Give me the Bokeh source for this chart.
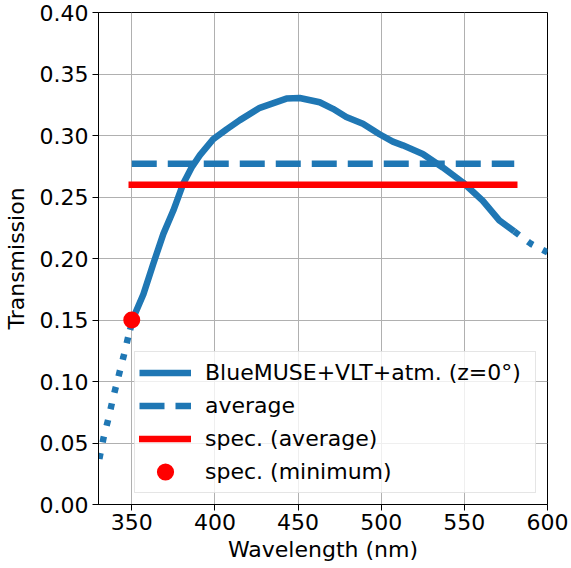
from bokeh.plotting import figure
from bokeh.models import Legend, LegendItem, Range1d, FixedTicker, CustomJSTickFormatter
from bokeh.embed import file_html
from bokeh.resources import INLINE

# data
wl_left = [330.5, 333, 336, 339, 342, 345, 348, 350]
tr_left = [0.037, 0.054, 0.070, 0.088, 0.104, 0.120, 0.137, 0.148]
wl_main = [349, 351, 357, 363, 369, 375, 381, 386, 391, 399, 407, 415, 427, 443, 451, 463,
           471, 479, 489, 499, 507, 513, 525, 537, 549, 561, 571, 580]
tr_main = [0.142, 0.152, 0.171, 0.196, 0.220, 0.239, 0.261, 0.274, 0.284, 0.297, 0.305, 0.3125,
           0.3225, 0.330, 0.3305, 0.327, 0.3217, 0.315, 0.3095, 0.301, 0.295, 0.292, 0.285,
           0.274, 0.262, 0.247, 0.231, 0.222]
wl_right = [580, 590, 600]
tr_right = [0.222, 0.212, 0.205]
avg_x = [350, 580]
avg_y = [0.277, 0.277]
spec_avg_x = [350, 580]
spec_avg_y = [0.26, 0.26]
spec_min_x = [350]
spec_min_y = [0.15]
x_ticks = [350, 400, 450, 500, 550, 600]
y_ticks = [0.0, 0.05, 0.1, 0.15, 0.2, 0.25, 0.3, 0.35, 0.4]

BLUE = "#1f77b4"
FONT = "DejaVu Sans"
FS = "22px"

p = figure(frame_width=449, frame_height=492, output_backend="svg", toolbar_location=None,
           x_range=Range1d(330, 600), y_range=Range1d(0, 0.4),
           min_border_left=90, min_border_right=24, min_border_top=12, min_border_bottom=50)
p.outline_line_color = "black"
p.outline_line_width = 1

for ax in (p.xaxis[0], p.yaxis[0]):
    ax.major_label_text_font = FONT
    ax.major_label_text_font_size = FS
    ax.axis_label_text_font = FONT
    ax.axis_label_text_font_size = FS
    ax.axis_label_text_font_style = "normal"
    ax.minor_tick_line_color = None
    ax.major_tick_in = 0
    ax.major_tick_out = 6
    ax.axis_line_color = "black"
    ax.major_tick_line_color = "black"
    ax.major_label_text_color = "black"
    ax.axis_label_text_color = "black"

p.xaxis.ticker = FixedTicker(ticks=x_ticks)
p.yaxis.ticker = FixedTicker(ticks=y_ticks)
p.yaxis.formatter = CustomJSTickFormatter(code="return tick.toFixed(2);")
p.xaxis.axis_label = "Wavelength (nm)"
p.yaxis.axis_label = "Transmission"
p.xaxis.axis_label_standoff = 4
p.yaxis.axis_label_standoff = 8
p.xaxis.major_label_standoff = 3
p.yaxis.major_label_standoff = 4

p.grid.grid_line_color = "#b0b0b0"
p.grid.grid_line_width = 1
p.xgrid.ticker = FixedTicker(ticks=x_ticks)
p.ygrid.ticker = FixedTicker(ticks=y_ticks)

r_ld = p.line(wl_left, tr_left, line_color=BLUE, line_width=6.5, line_dash="6 11")
r_rd = p.line(wl_right, tr_right, line_color=BLUE, line_width=6.5, line_dash="6 11")
r_main = p.line(wl_main, tr_main, line_color=BLUE, line_width=6.5, line_join="round")
r_avg = p.line(avg_x, avg_y, line_color=BLUE, line_width=6.5, line_dash="25 11")
r_savg = p.line(spec_avg_x, spec_avg_y, line_color="red", line_width=6.5, line_cap="square")
r_smin = p.scatter(spec_min_x, spec_min_y, size=13, fill_color="red", line_color="red",
                   line_width=4)

legend = Legend(items=[
    LegendItem(label="BlueMUSE+VLT+atm. (z=0°)", renderers=[r_main]),
    LegendItem(label="average", renderers=[r_avg]),
    LegendItem(label="spec. (average)", renderers=[r_savg]),
    LegendItem(label="spec. (minimum)", renderers=[r_smin]),
], location=(36, 11))
legend.label_text_font = FONT
legend.label_text_font_size = FS
legend.label_text_color = "black"
legend.glyph_width = 52
legend.glyph_height = 33
legend.label_height = 26
legend.label_width = 326
legend.label_standoff = 14
legend.spacing = 0
legend.padding = 4
legend.margin = 0
legend.border_line_color = "#cccccc"
legend.border_line_width = 1
legend.background_fill_alpha = 0.8
p.add_layout(legend)

open("out.html", "w").write(file_html(p, INLINE))
